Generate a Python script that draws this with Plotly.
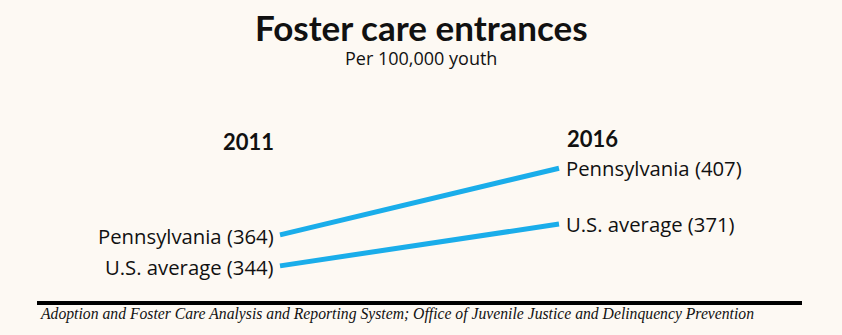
import plotly.graph_objects as go

# Data
years = ["2011", "2016"]
series_names = ["Pennsylvania", "U.S. average"]
pennsylvania = [364, 407]
us_average = [344, 371]

title = "Foster care entrances"
subtitle = "Per 100,000 youth"
source = ("Adoption and Foster Care Analysis and Reporting System; "
          "Office of Juvenile Justice and Delinquency Prevention")

BG = "#fdf9f3"
LINE = "#1aadea"
INK = "#111111"
W, H = 842, 335

fig = go.Figure()
for name, vals in zip(series_names, [pennsylvania, us_average]):
    fig.add_trace(go.Scatter(
        x=[0, 1], y=vals, mode="lines", name=name,
        line=dict(color=LINE, width=5), hoverinfo="skip", showlegend=False,
    ))

annotations = []
label_font = dict(family="Open Sans", size=20.3, color=INK)
for name, vals in zip(series_names, [pennsylvania, us_average]):
    annotations.append(dict(x=0, y=vals[0], xref="x", yref="y", text=f"{name} ({vals[0]})",
                            xanchor="right", yanchor="middle", xshift=-4, yshift=-1,
                            showarrow=False, font=label_font))
    annotations.append(dict(x=1, y=vals[1], xref="x", yref="y", text=f"{name} ({vals[1]})",
                            xanchor="left", yanchor="middle", xshift=5, showarrow=False,
                            font=label_font))

# Year headers above each column
header_font = dict(family="Lato", size=22, color=INK, weight=900)
annotations.append(dict(x=0, y=1 - 141 / H, xref="x", yref="paper", text=f"<b>{years[0]}</b>",
                        xanchor="right", yanchor="middle", xshift=-4, showarrow=False, font=header_font))
annotations.append(dict(x=1, y=1 - 139 / H, xref="x", yref="paper", text=f"<b>{years[1]}</b>",
                        xanchor="left", yanchor="middle", xshift=6, showarrow=False, font=header_font))

# Title and subtitle
annotations.append(dict(x=0.5, y=1 - 27 / H, xref="paper", yref="paper", text=f"<b>{title}</b>",
                        xanchor="center", yanchor="middle", showarrow=False,
                        font=dict(family="Lato", size=35, color=INK, weight=900)))
annotations.append(dict(x=0.5, y=1 - 58 / H, xref="paper", yref="paper", text=subtitle,
                        xanchor="center", yanchor="middle", showarrow=False,
                        font=dict(family="Open Sans", size=18, color=INK)))

# Source line
annotations.append(dict(x=38 / W, y=1 - 314 / H, xref="paper", yref="paper",
                        text=f"<i>{source}</i>", xanchor="left", yanchor="middle", showarrow=False,
                        font=dict(family="Liberation Serif", size=15.7, color=INK)))

fig.update_layout(
    width=W, height=H,
    margin=dict(l=0, r=0, t=0, b=0),
    paper_bgcolor=BG, plot_bgcolor=BG,
    xaxis=dict(range=[-280 / 279, (W - 280) / 279], visible=False, fixedrange=True),
    yaxis=dict(range=[299.4, 515.5], visible=False, fixedrange=True),
    annotations=annotations,
    shapes=[dict(type="line", xref="paper", yref="paper",
                 x0=37 / W, x1=802 / W, y0=1 - 303 / H, y1=1 - 303 / H,
                 line=dict(color="#000000", width=4))],
)

fig.write_html("out.html")
